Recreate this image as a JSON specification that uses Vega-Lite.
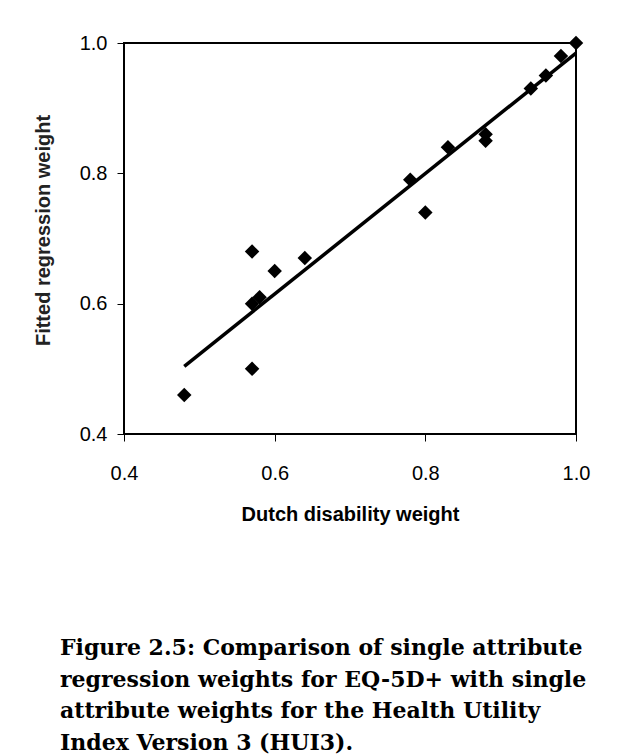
{
  "$schema": "https://vega.github.io/schema/vega-lite/v6.json",
  "width": 452,
  "height": 391,
  "autosize": {"type": "none"},
  "padding": {"left": 124, "top": 43, "right": 59, "bottom": 321},
  "background": "white",
  "title": {
    "text": [
      "Figure 2.5: Comparison of single attribute",
      "regression weights for EQ-5D+ with single",
      "attribute weights for the Health Utility",
      "Index Version 3 (HUI3)."
    ],
    "orient": "bottom",
    "anchor": "start",
    "frame": "group",
    "align": "left",
    "dx": -64,
    "offset": 131,
    "baseline": "alphabetic",
    "font": "DejaVu Serif",
    "fontWeight": "bold",
    "fontSize": 22,
    "lineHeight": 31.7,
    "color": "black"
  },
  "data": {
    "values": [
      {"dutch": 0.48, "fitted": 0.46},
      {"dutch": 0.57, "fitted": 0.68},
      {"dutch": 0.57, "fitted": 0.50},
      {"dutch": 0.57, "fitted": 0.60},
      {"dutch": 0.58, "fitted": 0.61},
      {"dutch": 0.60, "fitted": 0.65},
      {"dutch": 0.64, "fitted": 0.67},
      {"dutch": 0.78, "fitted": 0.79},
      {"dutch": 0.80, "fitted": 0.74},
      {"dutch": 0.83, "fitted": 0.84},
      {"dutch": 0.88, "fitted": 0.86},
      {"dutch": 0.88, "fitted": 0.85},
      {"dutch": 0.94, "fitted": 0.93},
      {"dutch": 0.96, "fitted": 0.95},
      {"dutch": 0.98, "fitted": 0.98},
      {"dutch": 1.00, "fitted": 1.00}
    ]
  },
  "encoding": {
    "x": {
      "field": "dutch",
      "type": "quantitative",
      "scale": {"domain": [0.4, 1.0], "nice": false, "zero": false},
      "axis": {
        "title": "Dutch disability weight",
        "values": [0.4, 0.6, 0.8, 1.0],
        "format": ".1f",
        "grid": false,
        "domain": false,
        "tickSize": 7,
        "tickWidth": 1,
        "tickColor": "black",
        "labelPadding": 22,
        "labelFont": "Liberation Sans",
        "labelFontSize": 20,
        "labelColor": "black",
        "labelFlush": false,
        "titleFont": "Liberation Sans",
        "titleFontSize": 20,
        "titleFontWeight": "bold",
        "titleColor": "black",
        "titleBaseline": "alphabetic",
        "titleY": 86,
        "titleX": 226,
        "titleAlign": "center"
      }
    },
    "y": {
      "field": "fitted",
      "type": "quantitative",
      "scale": {"domain": [0.4, 1.0], "nice": false, "zero": false},
      "axis": {
        "title": "Fitted regression weight",
        "values": [0.4, 0.6, 0.8, 1.0],
        "format": ".1f",
        "grid": false,
        "domain": false,
        "tickSize": 7,
        "tickWidth": 1,
        "tickColor": "black",
        "labelPadding": 10,
        "labelFont": "Liberation Sans",
        "labelFontSize": 20,
        "labelColor": "black",
        "labelFlush": false,
        "titleFont": "Liberation Sans",
        "titleFontSize": 20,
        "titleFontWeight": "bold",
        "titleColor": "#222222",
        "titleAngle": 270,
        "titleBaseline": "alphabetic",
        "titleAlign": "center",
        "titleX": -75,
        "titleY": 187
      }
    }
  },
  "layer": [
    {
      "mark": {"type": "point", "shape": "diamond", "filled": true, "size": 210, "color": "black", "opacity": 1}
    },
    {
      "transform": [{"regression": "fitted", "on": "dutch"}],
      "mark": {"type": "line", "color": "black", "strokeWidth": 3.5}
    }
  ],
  "config": {
    "view": {"stroke": "black", "strokeWidth": 2}
  }
}
